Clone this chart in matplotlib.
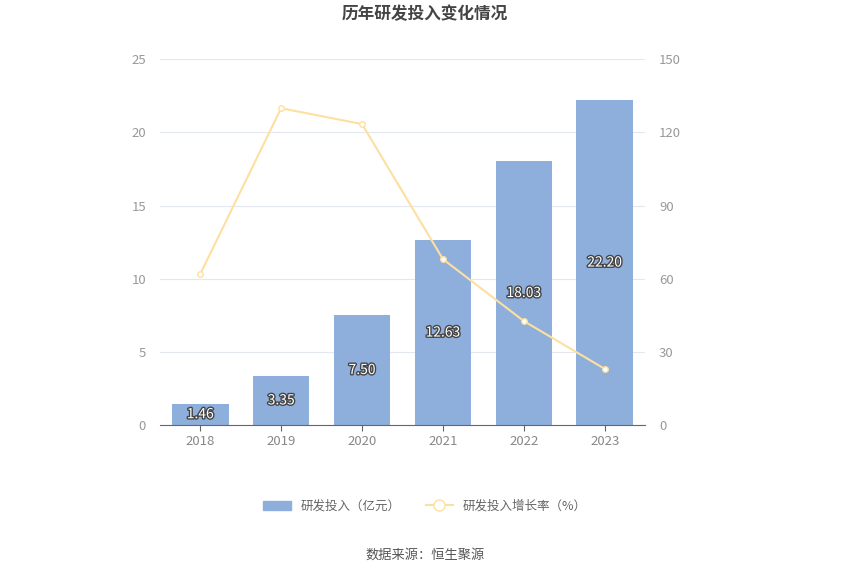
import matplotlib
matplotlib.use("Agg")
import matplotlib.pyplot as plt
import matplotlib.patheffects as pe
from matplotlib.lines import Line2D
from matplotlib.patches import Patch

plt.rcParams['font.family'] = ['Noto Sans CJK SC', 'DejaVu Sans']

years = ["2018", "2019", "2020", "2021", "2022", "2023"]
invest = [1.46, 3.35, 7.50, 12.63, 18.03, 22.20]
growth = [61.9, 129.9, 123.4, 68.0, 42.6, 23.0]
left_ticks = [0, 5, 10, 15, 20, 25]
right_ticks = [0, 30, 60, 90, 120, 150]

fig = plt.figure(figsize=(8.5, 5.75), dpi=100)
ax = fig.add_axes([0.188, 0.261, 0.571, 0.636])
ax2 = ax.twinx()
x = list(range(len(years)))
ax.bar(x, invest, width=0.7, color='#8eaedb', zorder=2)
for xi, v in zip(x, invest):
    ax.text(xi, v / 2, f"{v:.2f}", ha='center', va='center', color='white', fontsize=10,
            path_effects=[pe.withStroke(linewidth=2, foreground='#444444')], zorder=5)
ax2.plot(x, growth, color='#fde0a0', lw=1.5, marker='o', ms=4, mfc='white', mec='#fde0a0', zorder=3)

ax.set_ylim(0, 25); ax2.set_ylim(0, 150)
ax.set_xlim(-0.5, 5.5)
ax.set_yticks(left_ticks); ax2.set_yticks(right_ticks)
ax.set_xticks(x); ax.set_xticklabels(years)
ax.grid(axis='y', color='#e3e8f0', lw=0.8, zorder=0)
for a in (ax, ax2):
    for s in a.spines.values():
        s.set_visible(False)
    a.tick_params(colors='#999999', labelsize=9.5, length=0)
ax.spines['bottom'].set_visible(True)
ax.spines['bottom'].set_color('#666666')
ax.tick_params(axis='x', length=4, color='#666666', labelcolor='#888888')
ax.tick_params(axis='y', pad=10)
ax2.tick_params(axis='y', pad=10)
ax.set_zorder(ax2.get_zorder() + 1); ax.patch.set_visible(False)
# keep line over bars: draw line on ax instead using transformed data
ax2.lines[0].remove()
ax.plot(x, [g / 6 for g in growth], color='#fde0a0', lw=1.5, marker='o', ms=4, mfc='white', mec='#fde0a0', zorder=3)

fig.text(0.5, 0.975, "历年研发投入变化情况", ha='center', va='center', fontsize=12, fontweight='bold', color='#444444')
handles = [Patch(color='#8eaedb'),
           Line2D([], [], color='#fde0a0', marker='o', mfc='white', ms=8, lw=1.5)]
fig.legend(handles, ["研发投入（亿元）", "研发投入增长率（%）"], loc='center', bbox_to_anchor=(0.5, 0.12),
           ncol=2, frameon=False, fontsize=9, labelcolor='#666666', handlelength=2.2, columnspacing=2)
fig.text(0.5, 0.035, "数据来源：恒生聚源", ha='center', va='center', fontsize=9.5, color='#555555')
fig.savefig("out.png", dpi=100)
